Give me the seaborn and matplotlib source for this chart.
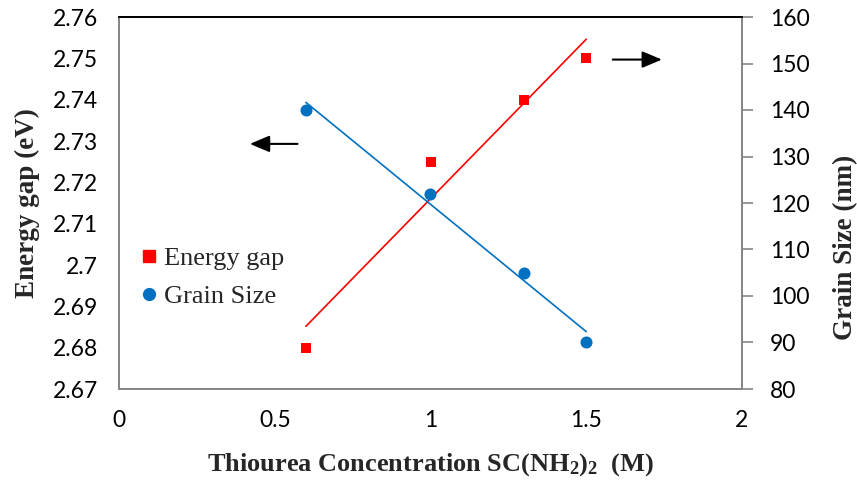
import numpy as np
import pandas as pd
import matplotlib
matplotlib.use("Agg")
import matplotlib.pyplot as plt
import seaborn as sns
from matplotlib.lines import Line2D

# ---- data ----
concentration = [0.6, 1.0, 1.3, 1.5]
energy_gap = [2.680, 2.725, 2.740, 2.750]
grain_size = [140, 122, 105, 90]
x_ticks = [0, 0.5, 1, 1.5, 2]
left_ticks = [2.67, 2.68, 2.69, 2.70, 2.71, 2.72, 2.73, 2.74, 2.75, 2.76]
left_labels = ["2.67", "2.68", "2.69", "2.7", "2.71", "2.72", "2.73", "2.74", "2.75", "2.76"]
right_ticks = [80, 90, 100, 110, 120, 130, 140, 150, 160]

df = pd.DataFrame({"conc": concentration, "eg": energy_gap, "gs": grain_size})

sns.set_theme(style="white")
plt.rcParams["font.family"] = ["Lato", "DejaVu Sans"]
plt.rcParams["mathtext.fontset"] = "custom"
plt.rcParams["mathtext.rm"] = "Liberation Serif:bold"
plt.rcParams["mathtext.default"] = "rm"

RED = "#FF0000"
BLUE = "#0070C0"
GRAY = "#868686"

fig = plt.figure(figsize=(8.57, 4.82), dpi=100)
ax = fig.add_axes([119/857, 1-389/482, (742-119)/857, (389-17)/482])
ax2 = ax.twinx()

sns.regplot(data=df, x="conc", y="eg", ax=ax, ci=None, marker="s", color=RED,
            scatter_kws=dict(s=62, linewidths=0, zorder=3, alpha=1),
            line_kws=dict(lw=1.2, color=RED))
sns.regplot(data=df, x="conc", y="gs", ax=ax2, ci=None, marker="o", color=BLUE,
            scatter_kws=dict(s=75, linewidths=0, zorder=3, alpha=1),
            line_kws=dict(lw=1.2, color=BLUE))

ax.set_xlim(0, 2)
ax.set_ylim(2.67, 2.76)
ax2.set_ylim(80, 160)
ax.set_xticks(x_ticks)
ax.set_xticklabels([f"{t:g}" for t in x_ticks])
ax.set_yticks(left_ticks)
ax.set_yticklabels(left_labels)
ax2.set_yticks(right_ticks)

ax.tick_params(axis="y", length=0, labelsize=16.5, colors="black", pad=15)
ax.tick_params(axis="x", length=0, labelsize=16.5, colors="black", pad=15)
ax2.tick_params(axis="y", length=8, width=1.2, color=GRAY, labelsize=16.5,
                labelcolor="black", pad=12)

for a in (ax, ax2):
    a.spines["left"].set_color(GRAY)
    a.spines["bottom"].set_color(GRAY)
    a.spines["right"].set_color(GRAY)
    a.spines["top"].set_color("black")
    for s in a.spines.values():
        s.set_linewidth(1.3)
        s.set_visible(True)

ax.set_xlabel(r"Thiourea Concentration SC(NH$_2$)$_2$  (M)", fontsize=19,
              fontweight="bold", family="Liberation Serif")
ax.xaxis.set_label_coords(0.5, -0.168)
ax.set_ylabel("Energy gap (eV)", fontsize=19.5, fontweight="bold",
              family="Liberation Serif")
ax.yaxis.set_label_coords(-0.127, 0.5)
ax2.set_ylabel("Grain Size (nm)", fontsize=19.5, fontweight="bold",
               family="Liberation Serif")
ax2.yaxis.set_label_coords(1.146, 0.38)

# arrows
arrow_style = "-|>,head_length=1.0,head_width=0.42"
ax.annotate("", xy=(0.42, 2.7293), xytext=(0.573, 2.7293),
            arrowprops=dict(arrowstyle=arrow_style, color="black", lw=1.5,
                            shrinkA=0, shrinkB=0))
ax.annotate("", xy=(1.743, 2.7497), xytext=(1.585, 2.7497),
            arrowprops=dict(arrowstyle=arrow_style, color="black", lw=1.5,
                            shrinkA=0, shrinkB=0))

handles = [Line2D([], [], marker="s", color=RED, ls="none", markersize=8),
           Line2D([], [], marker="o", color=BLUE, ls="none", markersize=8.5)]
ax.legend(handles, ["Energy gap", "Grain Size"], loc="center left",
          bbox_to_anchor=(0.0, 0.30), frameon=False,
          prop=dict(family="Liberation Serif", size=19),
          handlelength=0.5, handletextpad=0.3, labelspacing=0.55)

fig.savefig("out.png", dpi=100)
